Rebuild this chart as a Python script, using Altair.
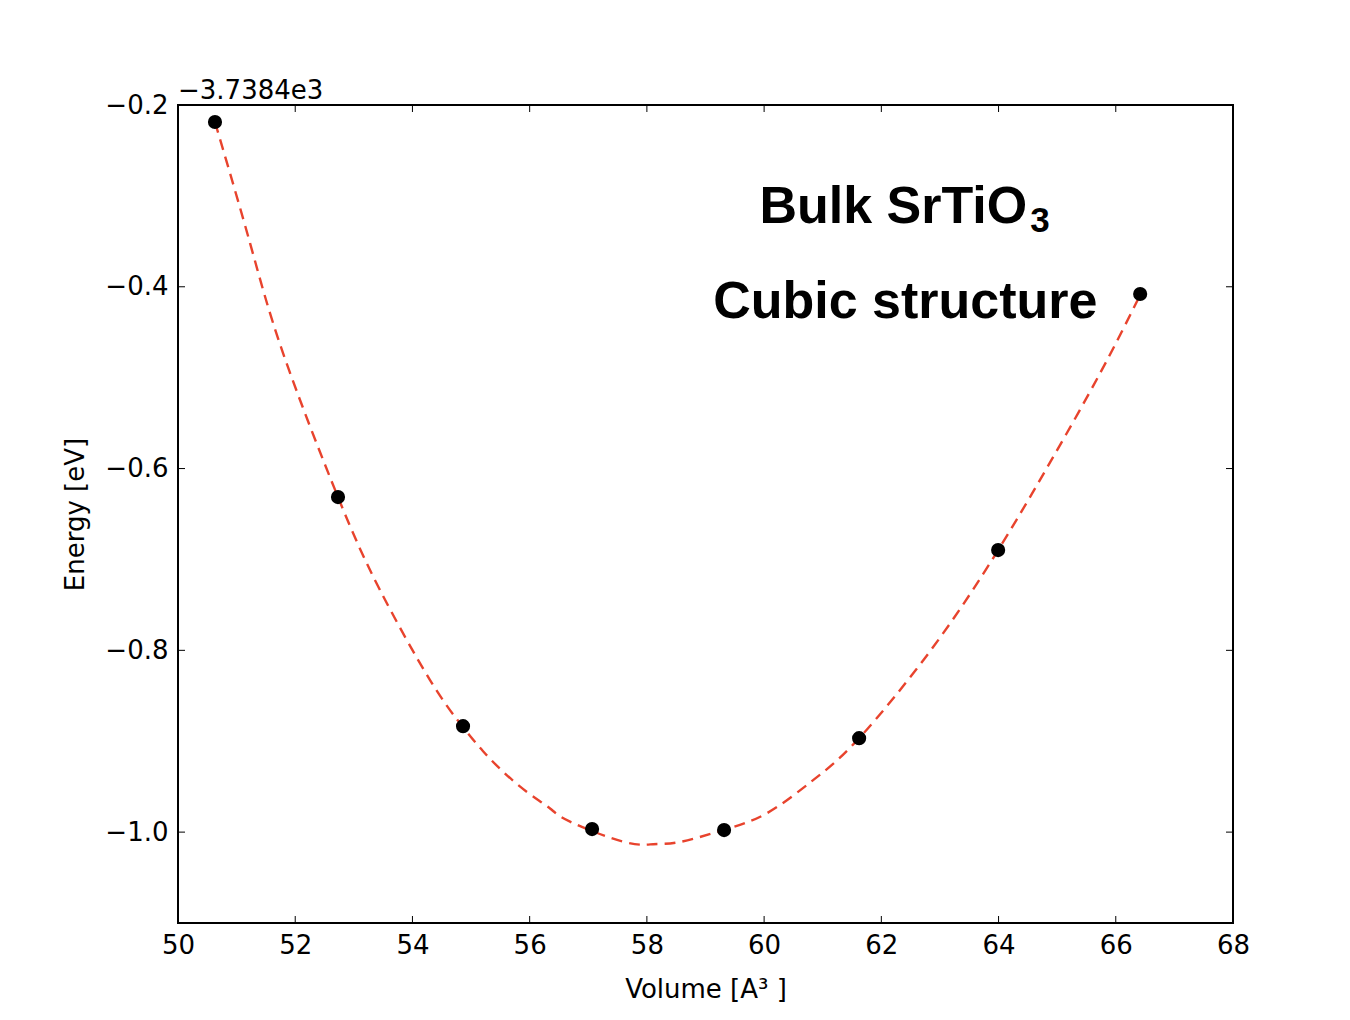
import altair as alt
import pandas as pd

# measured points
vol_pts = [50.631, 52.730, 54.863, 57.065, 59.317, 61.621, 63.993, 66.416]
en_pts = [-0.2187, -0.6314, -0.8834, -0.9967, -0.9978, -0.8966, -0.6897, -0.408]

# fitted curve
vol_fit = [50.631, 51.229, 51.792, 52.730, 53.447, 54.300, 54.863, 55.205, 55.546, 55.956,
           56.348, 56.689, 57.594, 58.106, 58.567, 59.300, 60.051, 60.836,
           61.621, 62.884, 63.993, 64.881, 65.734, 66.416]
en_fit = [-0.2187, -0.3519, -0.4729, -0.6314, -0.7337, -0.8327, -0.8845, -0.9110, -0.9335,
          -0.9560, -0.9740, -0.9885, -1.0105, -1.0133, -1.0108, -0.9978,
          -0.9791, -0.9428, -0.8966, -0.7964, -0.6897, -0.5930, -0.4949, -0.4091]

x_ticks = [50, 52, 54, 56, 58, 60, 62, 64, 66, 68]
y_ticks = [-0.2, -0.4, -0.6, -0.8, -1.0]

W, H = 1055, 818
FONT = "DejaVu Sans"
FS = 26

pts = pd.DataFrame({"V": vol_pts, "E": en_pts})
fit = pd.DataFrame({"V": vol_fit, "E": en_fit})

xs = alt.Scale(domain=[50, 68], nice=False, zero=False)
ys = alt.Scale(domain=[-1.1, -0.2], nice=False, zero=False)

x_axis = alt.Axis(values=x_ticks, format="d", domain=False, ticks=False, grid=False,
                  labelFlush=False, labelOverlap=False,
                  labelFont=FONT, labelFontSize=FS, labelColor="black", labelPadding=9,
                  title="Volume [A³ ]", titleFont=FONT, titleFontSize=FS,
                  titleFontWeight="normal", titleColor="black", titlePadding=18)
y_axis = alt.Axis(values=y_ticks, format=".1f", domain=False, ticks=False, grid=False,
                  labelFlush=False, labelOverlap=False,
                  labelFont=FONT, labelFontSize=FS, labelColor="black", labelPadding=10,
                  title="Energy [eV]", titleFont=FONT, titleFontSize=FS,
                  titleFontWeight="normal", titleColor="black", titlePadding=16)

line = alt.Chart(fit).mark_line(color="#e8432d", strokeWidth=2.4, strokeDash=[11, 7],
                                interpolate="natural").encode(
    x=alt.X("V:Q", scale=xs, axis=x_axis),
    y=alt.Y("E:Q", scale=ys, axis=y_axis),
)

dots = alt.Chart(pts).mark_circle(color="black", opacity=1, size=200).encode(
    x=alt.X("V:Q", scale=xs),
    y=alt.Y("E:Q", scale=ys),
)

xt = pd.DataFrame({"t": x_ticks})
yt = pd.DataFrame({"t": y_ticks})
tick_len = 7
xtick_bottom = alt.Chart(xt).mark_rule(color="black", strokeWidth=1).encode(
    x=alt.X("t:Q", scale=xs), y=alt.value(H), y2=alt.value(H - tick_len))
xtick_top = alt.Chart(xt).mark_rule(color="black", strokeWidth=1).encode(
    x=alt.X("t:Q", scale=xs), y=alt.value(0), y2=alt.value(tick_len))
ytick_left = alt.Chart(yt).mark_rule(color="black", strokeWidth=1).encode(
    y=alt.Y("t:Q", scale=ys), x=alt.value(0), x2=alt.value(tick_len))
ytick_right = alt.Chart(yt).mark_rule(color="black", strokeWidth=1).encode(
    y=alt.Y("t:Q", scale=ys), x=alt.value(W), x2=alt.value(W - tick_len))

offset_df = pd.DataFrame({"V": [50], "E": [-0.2], "txt": ["−3.7384e3"]})
offset_text = alt.Chart(offset_df).mark_text(font=FONT, fontSize=FS, align="left",
                                             baseline="alphabetic", dy=-6, color="black").encode(
    x=alt.X("V:Q", scale=xs), y=alt.Y("E:Q", scale=ys), text="txt:N")

bulk_df = pd.DataFrame({"V": [64.49], "E": [-0.33], "txt": ["Bulk SrTiO"]})
bulk = alt.Chart(bulk_df).mark_text(font="Liberation Sans", fontSize=52, fontWeight="bold",
                                    align="right", baseline="alphabetic", color="black").encode(
    x=alt.X("V:Q", scale=xs), y=alt.Y("E:Q", scale=ys), text="txt:N")

sub_df = pd.DataFrame({"V": [64.49], "E": [-0.34], "txt": ["3"]})
sub = alt.Chart(sub_df).mark_text(font="Liberation Sans", fontSize=35, fontWeight="bold",
                                  align="left", baseline="alphabetic", color="black",
                                  dx=3).encode(
    x=alt.X("V:Q", scale=xs), y=alt.Y("E:Q", scale=ys), text="txt:N")

cubic_df = pd.DataFrame({"V": [62.41], "E": [-0.4344], "txt": ["Cubic structure"]})
cubic = alt.Chart(cubic_df).mark_text(font="Liberation Sans", fontSize=52, fontWeight="bold",
                                      align="center", baseline="alphabetic", color="black").encode(
    x=alt.X("V:Q", scale=xs), y=alt.Y("E:Q", scale=ys), text="txt:N")

chart = alt.layer(line, dots, xtick_bottom, xtick_top, ytick_left, ytick_right,
                  offset_text, bulk, sub, cubic).properties(
    width=W, height=H,
    autosize=alt.AutoSizeParams(type="none"),
    padding={"left": 170, "top": 97, "right": 109, "bottom": 89},
    background="white",
).configure_view(stroke="black", strokeWidth=2)

chart.save("out.html", embed_options={"renderer": "svg", "actions": False})
